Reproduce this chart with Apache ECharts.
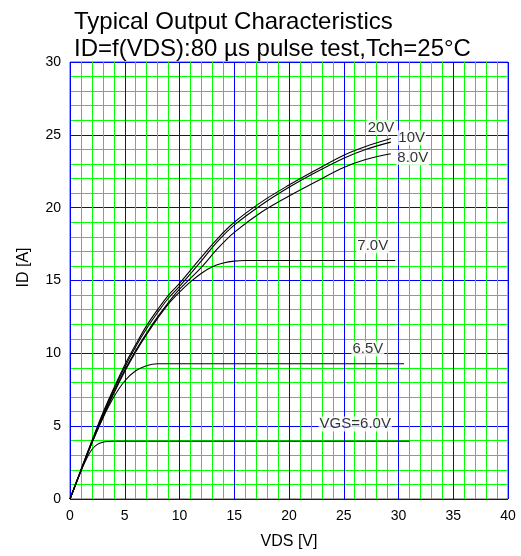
<!DOCTYPE html>
<html><head><meta charset="utf-8">
<script src="https://cdn.jsdelivr.net/npm/echarts@6/dist/echarts.min.js"></script>
<style>html,body{margin:0;padding:0;background:#fff}#c{width:521px;height:556px}</style>
</head><body><div id="c"></div>
<script>
// VDS [V] / ID [A] readings per VGS curve
const vds20 = [0,1,2,3,4,5,6,7,8,9,10,12,13.5,15,17.5,20,22.5,25,27,29.3];
const id20  = [0,2.0,4.0,5.9,7.6,9.2,10.6,11.9,13.0,14.0,14.8,16.6,17.9,19.0,20.4,21.55,22.6,23.6,24.2,24.75];
const vds10 = [0,1,2,3,4,5,6,7,8,9,10,12,13.5,15,17.5,20,22.5,25,27,29.3];
const id10  = [0,2.0,3.95,5.8,7.5,9.05,10.45,11.7,12.8,13.8,14.6,16.35,17.7,18.8,20.2,21.4,22.45,23.4,24.0,24.5];
const vds8  = [0,1,2,3,4,5,6,7,8,9,10,12,13.5,15,17.5,20,22.5,25,27,29.3];
const id8   = [0,1.95,3.9,5.7,7.35,8.85,10.2,11.4,12.5,13.5,14.4,15.9,17.2,18.3,19.7,20.8,21.8,22.75,23.3,23.7];
const vds7  = [0,1,2,3,4,5,6,7,8,9,10,11,12,13,14,15,16,29.7];
const id7   = [0,1.95,3.85,5.6,7.25,8.75,10.1,11.3,12.4,13.4,14.2,14.9,15.5,15.95,16.2,16.33,16.37,16.37];
const vds65 = [0,1,2,3,4,5,6,7,7.5,8,30.5];
const id65  = [0,1.95,3.85,5.55,7.0,8.1,8.8,9.15,9.25,9.28,9.28];
const vds6  = [0,1,1.5,2,2.5,3,3.5,4,31];
const id6   = [0,1.9,2.75,3.4,3.75,3.9,3.95,3.96,3.96];
const curveNames = ['20V','10V','8.0V','7.0V','6.5V','VGS=6.0V'];
// curve label anchors (data coordinates)
const labelText = ['20V','10V','8.0V','7.0V','6.5V','VGS=6.0V'];
const labelVds  = [28.4,31.2,31.3,27.65,27.2,26.05];
const labelId   = [25.5,24.8,23.44,17.38,10.3,5.15];
const xTicks = [0,5,10,15,20,25,30,35,40];
const yTicks = [0,5,10,15,20,25,30];

const FONT = 'Liberation Sans, Arial, sans-serif';
const zip = (a,b) => a.map((v,i)=>[v,b[i]]);
const curves = [[vds20,id20],[vds10,id10],[vds8,id8],[vds7,id7],[vds65,id65],[vds6,id6]];

const series = curves.map((c,i)=>({
  name: curveNames[i], type:'line', data: zip(c[0],c[1]), smooth:0.35, showSymbol:false,
  lineStyle:{color:'#000',width:1.1}, silent:true, z:3
}));
series.push({
  type:'scatter', symbolSize:0, z:5, silent:true,
  data: labelText.map((t,i)=>({value:[labelVds[i],labelId[i]], name:t})),
  label:{show:true, position:'inside', formatter:p=>p.name, color:'#000', fontSize:15,
    fontFamily:FONT, backgroundColor:'#fff', padding:[0,1]}
});

const chart = echarts.init(document.getElementById('c'));
chart.setOption({
  animation:false,
  title:{text:'Typical Output Characteristics\nID=f(VDS):80 µs pulse test,Tch=25°C',
    left:69, top:4, textStyle:{fontSize:24, fontWeight:'normal', color:'#000', fontFamily:FONT, lineHeight:27}},
  grid:{left:70, right:13, top:62, bottom:57, show:true, borderColor:'#555', borderWidth:1, backgroundColor:'#fff'},
  xAxis:{type:'value', min:xTicks[0], max:xTicks[xTicks.length-1], interval:5,
    name:'VDS [V]', nameLocation:'middle', nameGap:35,
    nameTextStyle:{fontSize:16, color:'#000', fontFamily:FONT},
    axisLine:{show:false}, axisTick:{show:false},
    axisLabel:{fontSize:14, color:'#000', fontFamily:FONT, margin:10},
    splitLine:{show:true, lineStyle:{color:'#0000ff', width:1}},
    minorTick:{show:false, splitNumber:5},
    minorSplitLine:{show:true, lineStyle:{color:'#00ff00', width:1}}},
  yAxis:{type:'value', min:yTicks[0], max:yTicks[yTicks.length-1], interval:5,
    name:'ID [A]', nameLocation:'middle', nameGap:38,
    nameTextStyle:{fontSize:16, color:'#000', fontFamily:FONT, padding:[0,0,0,26]},
    axisLine:{show:false}, axisTick:{show:false},
    axisLabel:{fontSize:14, color:'#000', fontFamily:FONT, margin:9},
    splitLine:{show:true, lineStyle:{color:'#0000ff', width:1}},
    minorTick:{show:false, splitNumber:5},
    minorSplitLine:{show:true, lineStyle:{color:'#00ff00', width:1}}},
  series
});
</script></body></html>
